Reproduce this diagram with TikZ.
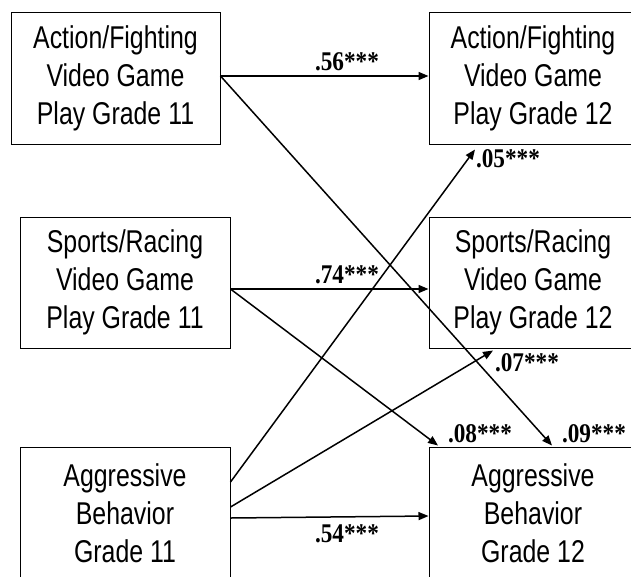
\documentclass[tikz,border=0pt]{standalone}
\usepackage{fontspec}
\newfontfamily\boxfont[FakeStretch=0.79]{Liberation Sans}
\newfontfamily\labfont[FakeStretch=0.86]{Liberation Serif}
\usetikzlibrary{arrows.meta,calc}
\tikzset{
  varbox/.style={draw=black, line width=1pt, rectangle, inner sep=0pt, align=center,
    font=\boxfont\fontsize{31.5}{38}\selectfont},
  path/.style={draw=black, line width=1.5pt, -{Triangle[length=10pt,width=8pt]}},
  coef/.style={font=\labfont\bfseries\fontsize{27}{27}\selectfont, inner sep=0pt}
}
\begin{document}
\begin{tikzpicture}[x=1pt,y=-1pt]
\useasboundingbox (0,0) rectangle (631,576);
\clip (0,0) rectangle (631,576);
\fill[white] (0,0) rectangle (631,576);
% boxes
\node[varbox, minimum width=209pt, minimum height=132pt] (A11) at (115.5,78) {Action/Fighting\\Video Game\\Play Grade 11};
\node[varbox, minimum width=208pt, minimum height=132pt] (A12) at (533,78) {Action/Fighting\\Video Game\\Play Grade 12};
\node[varbox, minimum width=210pt, minimum height=131pt] (S11) at (125,282.5) {Sports/Racing\\Video Game\\Play Grade 11};
\node[varbox, minimum width=208pt, minimum height=131pt] (S12) at (533,282.5) {Sports/Racing\\Video Game\\Play Grade 12};
\node[varbox, minimum width=210pt, minimum height=132pt] (G11) at (125,513) {Aggressive\\Behavior\\Grade 11};
\node[varbox, minimum width=208pt, minimum height=132pt] (G12) at (533,513) {Aggressive\\Behavior\\Grade 12};
% paths
\draw[path] ($(A11.east)+(0,-2)$) -- ($(A12.west)+(0,-2)$);
\draw[path] ($(A11.east)+(0,-2)$) -- ($(G12.north)+(19,-1)$);
\draw[path] ($(S11.east)+(0,6.5)$) -- ($(S12.west)+(0,6.5)$);
\draw[path] ($(S11.east)+(0,6.5)$) -- ($(G12.north)+(-95,-1)$);
\draw[path] ($(G11.east)+(0,-31)$) -- ($(A12.south)+(-58,5)$);
\draw[path] ($(G11.east)+(0,-6)$) -- ($(S12.south)+(-40,2)$);
\draw[path] ($(G11.east)+(0,5)$) -- ($(G12.west)+(0,3)$);
% coefficients
\node[coef] (c1) at (347,62) {.56***};
\node[coef] (c2) at (347,275) {.74***};
\node[coef] (c3) at (508,159) {.05***};
\node[coef] (c4) at (527,363) {.07***};
\node[coef] (c5) at (480,434) {.08***};
\node[coef] (c6) at (594,434) {.09***};
\node[coef] (c7) at (347,534) {.54***};
\end{tikzpicture}
\end{document}
